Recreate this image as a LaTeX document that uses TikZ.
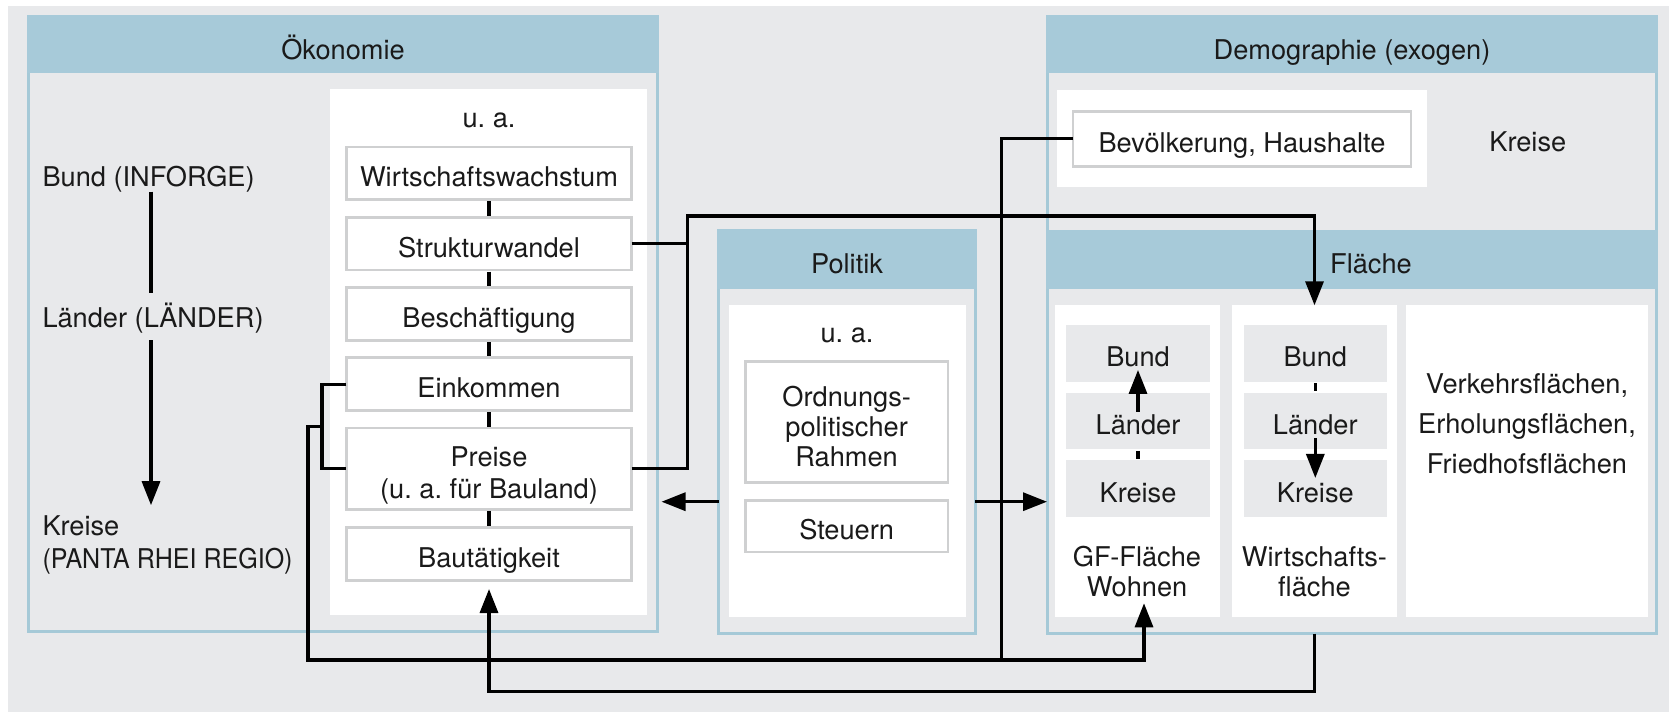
\documentclass[tikz,border=0pt]{standalone}
\usepackage{fontspec}
\setmainfont{TeX Gyre Heros}
\newfontfamily\narrowfont[FakeStretch=0.92]{TeX Gyre Heros}
\usetikzlibrary{arrows.meta,calc}
\definecolor{bgc}{HTML}{E8E9EB}
\definecolor{hdrc}{HTML}{A7CAD9}
\definecolor{frmc}{HTML}{A5C9D7}
\definecolor{bxc}{HTML}{CFD0D1}
\definecolor{txc}{HTML}{1A1A1A}
\begin{document}
\frenchspacing
\begin{tikzpicture}[x=0.5pt,y=-0.5pt,
  every node/.style={font=\fontsize{13.6}{16}\selectfont, inner sep=0pt, outer sep=0pt, text=txc},
  txt/.style={text height=9.8pt, text depth=0pt},
  frame/.style={draw=frmc, line width=1.5pt, fill=bgc},
  hdr/.style={fill=hdrc},
  panel/.style={fill=white},
  ibox/.style={draw=bxc, line width=1.35pt, fill=white, text height=13.6pt, text depth=0pt},
  gbox/.style={fill=bgc, text height=13.6pt, text depth=0pt},
  conn/.style={line width=1.6pt, draw=black},
  arr/.style={conn, -{Triangle[length=12pt,width=9pt]}},
  tick/.style={line width=1.6pt, draw=black, shorten <=0.7pt, shorten >=0.7pt}
]
\fill[white] (0,0) rectangle (1669,712);
\fill[bgc] (8,6) rectangle (1669,712);
\path[use as bounding box] (0,0) rectangle (1669,712);

% Oekonomie
\node[frame, minimum width=314.5pt, minimum height=307.5pt] (okF) at (343,324) {};
\node[hdr, minimum width=316pt, minimum height=29pt] (okH) at (343,44) {};
\node[txt] (okT) at (343,50) {Ökonomie};
\node[panel, minimum width=158.5pt, minimum height=263pt] (okP) at (488.5,352) {};
\node[txt] (okU) at (489,117.2) {u. a.};
\node[ibox, minimum width=142.65pt, minimum height=26.4pt] (wW) at (489,173.3) {Wirtschaftswachstum};
\node[ibox, minimum width=142.65pt, minimum height=26.4pt] (sW) at (489,243.7) {Strukturwandel};
\node[ibox, minimum width=142.65pt, minimum height=26.4pt] (bE) at (489,314.2) {Beschäftigung};
\node[ibox, minimum width=142.65pt, minimum height=26.4pt] (eK) at (489,384.2) {Einkommen};
\node[ibox, minimum width=142.65pt, minimum height=40.65pt] (pR) at (489,468.7) {};
\node[align=center, font=\fontsize{13.6}{15.8}\selectfont] (pRt) at (489,475.3) {Preise\\(u. a. für Bauland)};
\node[ibox, minimum width=142.65pt, minimum height=26.4pt] (bA) at (489,553.8) {Bautätigkeit};

\node[txt, anchor=west] (lB) at (42.5,176.7) {Bund (INFORGE)};
\node[txt, anchor=west] (lL) at (42.5,318) {Länder (LÄNDER)};
\node[anchor=west, align=left, font=\fontsize{13.6}{16.5}\selectfont] (lK) at (42.5,544.5) {Kreise\\{\narrowfont (PANTA RHEI REGIO)}};
\coordinate (lx) at (151,0);

% Demographie
\node[frame, minimum width=304.75pt, minimum height=90.65pt] (deF) at (1351.75,157.15) {};
\node[hdr, minimum width=306.25pt, minimum height=29.15pt] (deH) at (1351.75,44.15) {};
\node[txt] (deT) at (1352,50) {Demographie (exogen)};
\node[panel, minimum width=185.15pt, minimum height=48.65pt] (deP) at (1241.85,138.65) {};
\node[ibox, minimum width=168.9pt, minimum height=27.5pt] (bev) at (1242,138.85) {Bevölkerung, Haushalte};
\node[txt] (deK) at (1527.8,141.5) {Kreise};

% Politik
\node[frame, minimum width=128.15pt, minimum height=201.65pt] (poF) at (847.05,431.85) {};
\node[hdr, minimum width=129.65pt, minimum height=30pt] (poH) at (847.05,258.7) {};
\node[txt] (poT) at (847,263.5) {Politik};
\node[panel, minimum width=118.7pt, minimum height=155.7pt] (poP) at (847.3,461) {};
\node[txt] (poU) at (847,332.2) {u. a.};
\node[ibox, minimum width=101.3pt, minimum height=60.4pt] (oR) at (846.65,421.75) {};
\node[align=center, font=\fontsize{13.6}{15}\selectfont] (oRt) at (846.65,426.7) {Ordnungs-\\politischer\\Rahmen};
\node[ibox, minimum width=101.3pt, minimum height=25.8pt] (sT) at (846.65,526.15) {Steuern};

% Flaeche
\node[frame, minimum width=304.75pt, minimum height=201pt] (flF) at (1351.75,432.5) {};
\node[hdr, minimum width=306.25pt, minimum height=29.35pt] (flH) at (1351.75,259.35) {};
\node[txt] (flT) at (1371,263.5) {Fläche};
\node[panel, minimum width=82.5pt, minimum height=155.7pt] (flC1) at (1137.5,461) {};
\node[panel, minimum width=82.8pt, minimum height=155.7pt] (flC2) at (1314.5,461) {};
\node[panel, minimum width=120.95pt, minimum height=155.7pt] (flC3) at (1527.35,461) {};
\node[gbox, minimum width=72pt, minimum height=28.35pt] (g1B) at (1138,353.3) {Bund};
\node[gbox, minimum width=72pt, minimum height=28.35pt] (g1L) at (1138,421) {Länder};
\node[gbox, minimum width=72pt, minimum height=28.35pt] (g1K) at (1138,488.7) {Kreise};
\node[gbox, minimum width=71.35pt, minimum height=28.35pt] (g2B) at (1315.3,353.3) {Bund};
\node[gbox, minimum width=71.35pt, minimum height=28.35pt] (g2L) at (1315.3,421) {Länder};
\node[gbox, minimum width=71.35pt, minimum height=28.35pt] (g2K) at (1315.3,488.7) {Kreise};
\node[align=center, font=\fontsize{13.6}{15}\selectfont] (fW) at (1137,571.7) {GF-Fläche\\Wohnen};
\node[align=center, font=\fontsize{13.6}{15}\selectfont] (fWi) at (1314.5,571.7) {Wirtschafts-\\fläche};
\node[align=center, font=\fontsize{13.6}{20}\selectfont] (fV) at (1527,423.3) {Verkehrsflächen,\\Erholungsflächen,\\Friedhofsflächen};

% ticks
\foreach \a/\b in {wW/sW, sW/bE, bE/eK, eK/pR, pR/bA} \draw[tick] (\a.south) -- (\b.north);
\draw[tick] (g1L.south) -- (g1K.north);
\draw[tick] (g2B.south) -- (g2L.north);
\draw[arr] ($(g1L.north)+(0,19)$) -- ($(g1B.south)+(0,-11.7)$);
\draw[arr] ($(g2L.south)+(0,-11)$) -- ($(g2K.north)+(0,17.6)$);

% left column
\draw[conn] ($(lB.south -| lx)+(0,5.2)$) -- ($(lL.north -| lx)+(0,-15.5)$);
\draw[arr] ($(lL.south -| lx)+(0,12.2)$) -- ($(lK.north -| lx)+(0,-10)$);

% connectors
\draw[conn] (eK.west) -- ++(-24.3,0) coordinate (brA) |- (pR.west);
\draw[arr] ($(brA)!0.5!(brA |- pR.west)$) -- ++(-14,0) -- ++(0,233.5) coordinate (lpB) -| ($(fW.south)+(7,6.2)$);
\draw[conn] (bev.west) -- ++(-72,0) coordinate (bvC) -- (bvC |- lpB);
\draw[arr] (sW.east) -- ++(55.8,0) coordinate (sV) -- ++(0,-27.7) -| (flC2.north);
\draw[conn] (pR.east) -| (sV);
\coordinate (paL) at ($(poF.west)+(0,69.85)$);
\coordinate (paR) at ($(poF.east)+(0,69.85)$);
\draw[arr, shorten >=2pt] (paL) -- (paL -| okF.east);
\draw[arr] (paR) -- (paR -| flF.west);
\draw[arr] (flC2.south |- flF.south) -- ++(0,58) -| ($(bA.south)+(0,8.8)$);
\end{tikzpicture}
\end{document}
